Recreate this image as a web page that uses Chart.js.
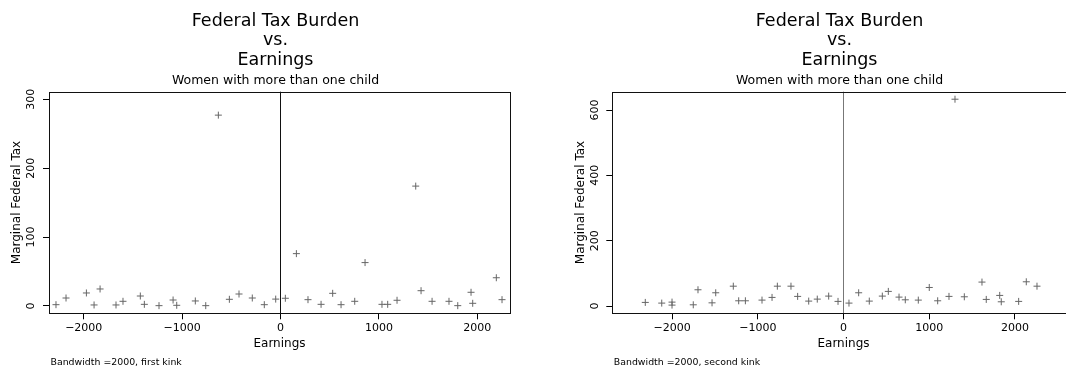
<!DOCTYPE html>
<html>
<head>
<meta charset="utf-8">
<script src="https://cdn.jsdelivr.net/npm/chart.js@4/dist/chart.umd.min.js"></script>
<style>
  html, body { margin: 0; padding: 0; background: #fff; overflow: hidden; }
  #wrap { position: relative; width: 1066px; height: 367px; overflow: hidden; }
  canvas { position: absolute; top: 0; }
</style>
</head>
<body>
<div id="wrap">
  <canvas id="kink1" width="533" height="367" style="left:0px"></canvas>
  <canvas id="kink2" width="557" height="367" style="left:533px"></canvas>
</div>
<script>
// titles
var titleLines = ['Federal Tax Burden', 'vs.', 'Earnings'];
var subtitle = 'Women with more than one child';
var xTitle = 'Earnings';
var yTitle = 'Marginal Federal Tax';

// ticks
var xTicks = [-2000, -1000, 0, 1000, 2000];
var firstYTicks = [0, 100, 200, 300];
var secondYTicks = [0, 200, 400, 600];

// first kink (earnings relative to kink, marginal federal tax)
var firstEarnings = [-2282, -2180, -1973, -1895, -1834, -1672, -1601, -1425, -1384, -1235,
  -1092, -1055, -866, -760, -632, -520, -422, -287, -165, -49,
  49, 161, 279, 412, 530, 615, 754, 859, 1031, 1089,
  1184, 1374, 1428, 1540, 1712, 1801, 1936, 1953, 2193, 2251];
var firstTax = [1.9, 11.6, 18.9, 1.5, 24.7, 1.5, 6.8, 14.5, 2.4, 0.5,
  8.7, 1, 7.3, 0.5, 277, 9.7, 17.4, 11.6, 1.9, 10,
  11.2, 76, 9.2, 2.4, 18.4, 1.9, 6.8, 63, 2.4, 2.4,
  8.3, 174, 22.2, 6.8, 6.8, 0.5, 19.9, 3.9, 41, 9.2];

// second kink
var secondEarnings = [-2313, -2121, -2001, -2001, -1753, -1698, -1534, -1491, -1286, -1223,
  -1145, -951, -834, -772, -613, -535, -406, -306, -173, -64,
  64, 177, 301, 453, 523, 648, 721, 873, 1001, 1099,
  1231, 1301, 1410, 1616, 1666, 1823, 1841, 2044, 2133, 2258];
var secondTax = [11.3, 9.2, 12.2, 3.1, 4, 50, 10, 40.8, 61, 16.3,
  16.3, 18.4, 26.6, 61, 61, 29.7, 15.3, 21.4, 30.6, 14.4,
  9.2, 40.8, 15.3, 30.6, 45, 27.5, 19.3, 18.4, 57, 16.3,
  29.7, 633, 28.5, 73.5, 20.5, 32.7, 13.2, 14.4, 74.4, 61];

Chart.defaults.font.family = '"DejaVu Sans", sans-serif';
Chart.defaults.color = '#000';

// stata style frame, titles and note
var stataText = {
  id: 'stataText',
  beforeDatasetsDraw: function(chart, args, opts) {
    var ctx = chart.ctx, a = chart.chartArea;
    ctx.save();
    ctx.strokeStyle = '#111';
    ctx.lineWidth = 1;
    ctx.strokeRect(Math.round(a.left) + 0.5, Math.round(a.top) + 0.5,
      Math.round(a.right) - Math.round(a.left), Math.round(a.bottom) - Math.round(a.top));
    ctx.restore();
  },
  afterDraw: function(chart, args, opts) {
    var ctx = chart.ctx, a = chart.chartArea;
    var cx = (a.left + a.right) / 2 - 4;
    ctx.save();
    ctx.fillStyle = '#000';
    ctx.textAlign = 'center';
    ctx.textBaseline = 'alphabetic';
    ctx.font = '17.5px "DejaVu Sans"';
    for (var i = 0; i < titleLines.length; i++) {
      ctx.fillText(titleLines[i], cx, 25.5 + i * 19.5);
    }
    ctx.font = '12.5px "DejaVu Sans"';
    ctx.fillText(subtitle, cx, 84);
    ctx.textAlign = 'left';
    ctx.font = '9.4px "DejaVu Sans"';
    ctx.fillText(opts.note, a.left + 1.5, 364.5);
    ctx.restore();
  }
};

function fmt(v) {
  return v < 0 ? '\u2212' + Math.abs(v) : String(v);
}

function makeChart(id, earnings, tax, s) {
  var pts = earnings.map(function(x, i) { return { x: x, y: tax[i] }; });
  return new Chart(document.getElementById(id).getContext('2d'), {
    type: 'scatter',
    data: {
      datasets: [{
        data: pts,
        pointStyle: 'cross',
        pointRadius: 3.5,
        pointHoverRadius: 3.5,
        borderColor: '#666',
        backgroundColor: '#666',
        borderWidth: 1
      }]
    },
    plugins: [stataText],
    options: {
      responsive: false,
      animation: false,
      devicePixelRatio: 1,
      layout: { padding: { top: 91.7, left: 0, right: s.padRight, bottom: 0 } },
      plugins: {
        legend: { display: false },
        tooltip: { enabled: false },
        stataText: { note: s.note }
      },
      scales: {
        x: {
          type: 'linear',
          min: s.xMin,
          max: s.xMax,
          afterBuildTicks: function(sc) { sc.ticks = xTicks.map(function(v) { return { value: v }; }); },
          afterFit: function(sc) { sc.height = 53.7; },
          border: { display: false },
          grid: {
            drawOnChartArea: true,
            color: function(c) { return c.tick && c.tick.value === 0 ? s.zeroColor : 'rgba(0,0,0,0)'; },
            lineWidth: 1,
            tickLength: 6,
            tickColor: '#000',
            tickWidth: 1
          },
          ticks: { callback: fmt, font: { size: 11 }, padding: 2, color: '#000', maxRotation: 0 },
          title: { display: true, text: xTitle, font: { size: 12 }, color: '#000', padding: { top: 0, bottom: 15.8 } }
        },
        y: {
          type: 'linear',
          min: s.yMin,
          max: s.yMax,
          afterBuildTicks: function(sc) { sc.ticks = s.yTicks.map(function(v) { return { value: v }; }); },
          afterFit: function(sc) { sc.width = s.yWidth; },
          border: { display: false },
          grid: { drawOnChartArea: false, tickLength: 6, tickColor: '#000', color: '#000' },
          ticks: {
            callback: fmt, font: { size: 11 }, color: '#000',
            minRotation: 90, maxRotation: 90, crossAlign: 'center', padding: 1
          },
          title: { display: true, text: yTitle, font: { size: 12 }, color: '#000', padding: { top: s.yTitlePad, bottom: 0 } }
        }
      }
    }
  });
}

makeChart('kink1', firstEarnings, firstTax, {
  xMin: -2353, xMax: 2332, yMin: -10.6, yMax: 311,
  yTicks: firstYTicks, yWidth: 49, yTitlePad: 9.8, padRight: 23,
  zeroColor: '#111', note: 'Bandwidth =2000, first kink'
});

makeChart('kink2', secondEarnings, secondTax, {
  xMin: -2698, xMax: 2698, yMin: -22, yMax: 656,
  yTicks: secondYTicks, yWidth: 79.3, yTitlePad: 40.6, padRight: 15.3,
  zeroColor: '#777', note: 'Bandwidth =2000, second kink'
});
</script>
</body>
</html>
